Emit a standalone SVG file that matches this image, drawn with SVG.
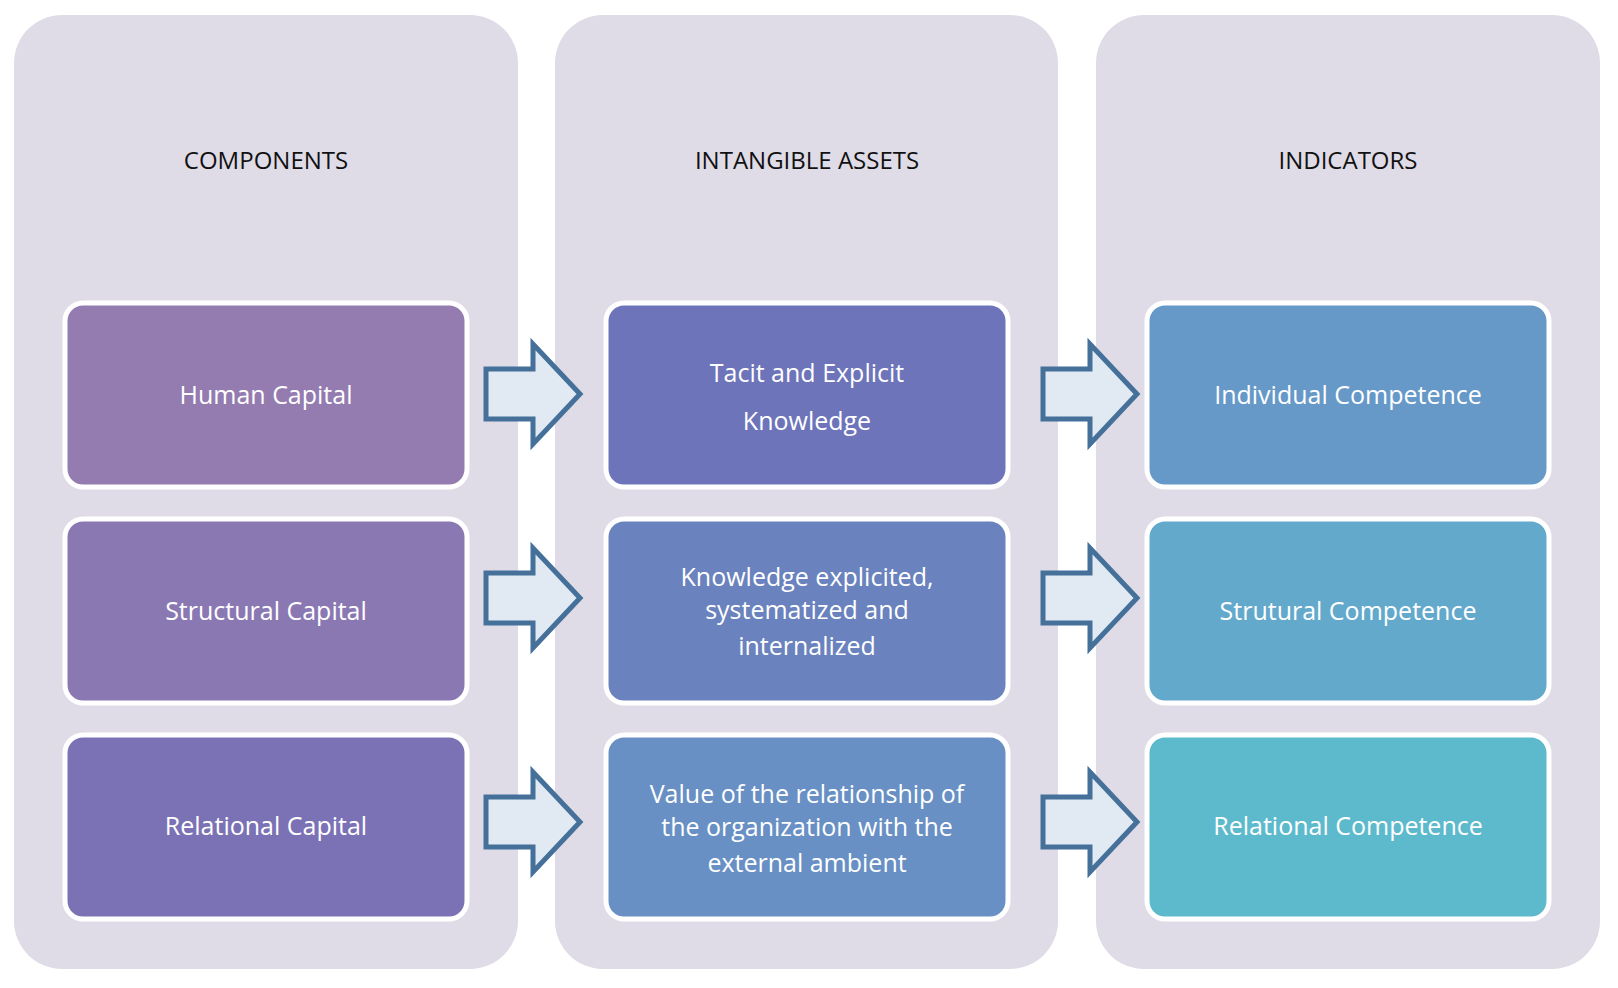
<svg xmlns="http://www.w3.org/2000/svg" width="1618" height="988" viewBox="0 0 1618 988">
<style>
.col{fill:#dfdce7}
.box{stroke:#fff;stroke-width:5}
.t{font-family:"Open Sans","Liberation Sans",sans-serif;font-size:25px;fill:#fff;text-anchor:middle}
.h{font-family:"Open Sans","Liberation Sans",sans-serif;font-size:24px;fill:#111;text-anchor:middle}
.arr{fill:#e1e9f3;stroke:#45709a;stroke-width:5;stroke-linejoin:miter}
</style>
<rect width="1618" height="988" fill="#fff"/>
<g id="col-components"><rect class="col" x="14" y="15" width="504" height="954" rx="48"/><text class="h" x="266" y="169">COMPONENTS</text></g>
<g id="col-assets"><rect class="col" x="555" y="15" width="503" height="954" rx="48"/><text class="h" x="807" y="169">INTANGIBLE ASSETS</text></g>
<g id="col-indicators"><rect class="col" x="1096" y="15" width="504" height="954" rx="48"/><text class="h" x="1348" y="169">INDICATORS</text></g>
<g id="human"><rect class="box" x="65" y="303" width="402" height="184" rx="18" fill="#947bb0"/><text class="t" x="266" y="404">Human Capital</text></g>
<g id="structural"><rect class="box" x="65" y="519" width="402" height="184" rx="18" fill="#8a78b3"/><text class="t" x="266" y="620">Structural Capital</text></g>
<g id="relational"><rect class="box" x="65" y="735" width="402" height="184" rx="18" fill="#7b72b6"/><text class="t" x="266" y="835">Relational Capital</text></g>
<g id="tacit"><rect class="box" x="606" y="303" width="402" height="184" rx="18" fill="#6d74ba"/><text class="t" x="807" y="382">Tacit and Explicit</text><text class="t" x="807" y="430">Knowledge</text></g>
<g id="knowledge"><rect class="box" x="606" y="519" width="402" height="184" rx="18" fill="#6a82bd"/><text class="t" x="807" y="586">Knowledge explicited,</text><text class="t" x="807" y="619">systematized and</text><text class="t" x="807" y="655">internalized</text></g>
<g id="value"><rect class="box" x="606" y="735" width="402" height="184" rx="18" fill="#6890c4"/><text class="t" x="807" y="803">Value of the relationship of</text><text class="t" x="807" y="836">the organization with the</text><text class="t" x="807" y="872">external ambient</text></g>
<g id="individual"><rect class="box" x="1147" y="303" width="402" height="184" rx="18" fill="#6699c8"/><text class="t" x="1348" y="404">Individual Competence</text></g>
<g id="strutural"><rect class="box" x="1147" y="519" width="402" height="184" rx="18" fill="#63a9cc"/><text class="t" x="1348" y="620">Strutural Competence</text></g>
<g id="relcomp"><rect class="box" x="1147" y="735" width="402" height="184" rx="18" fill="#5dbacd"/><text class="t" x="1348" y="835">Relational Competence</text></g>
<g id="connectors">
<path class="arr" d="M486,369 H533 V344 L580,394 L533,444 V419 H486 Z"/>
<path class="arr" d="M486,573 H533 V548 L580,598 L533,648 V623 H486 Z"/>
<path class="arr" d="M486,797 H533 V772 L580,822 L533,872 V847 H486 Z"/>
<path class="arr" d="M1043,369 H1090 V344 L1137,394 L1090,444 V419 H1043 Z"/>
<path class="arr" d="M1043,573 H1090 V548 L1137,598 L1090,648 V623 H1043 Z"/>
<path class="arr" d="M1043,797 H1090 V772 L1137,822 L1090,872 V847 H1043 Z"/>
</g>
</svg>
